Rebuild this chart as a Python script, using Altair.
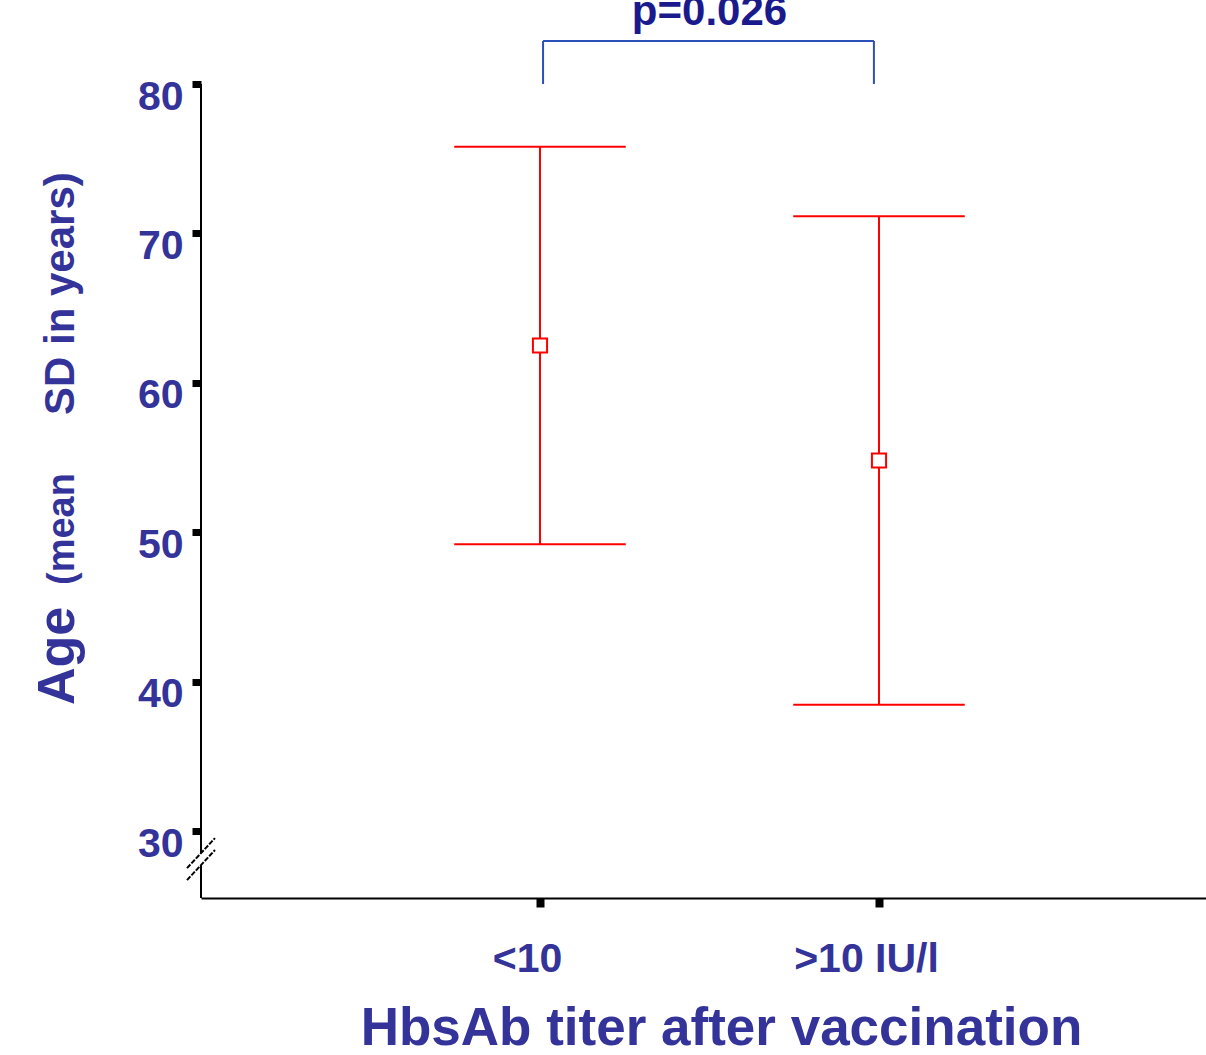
import altair as alt
import pandas as pd

# ---- data ----
groups = ["<10", ">10 IU/l"]
group_pos = [1, 2]
means = [62.5, 54.8]
sds = [13.3, 16.35]
y_ticks = [30, 40, 50, 60, 70, 80]

p_label = ["p=0.026"]
bracket_x = [1.009, 1.985]
bracket_low = 80.0
bracket_high = 82.88
p_y = 83.95

FONT = "Liberation Sans"
TXT = "#333399"

df = pd.DataFrame({"g": groups, "x": group_pos, "mean": means, "sd": sds})

xscale = alt.Scale(domain=[0, 1005 / 339], nice=False, zero=False)
yscale = alt.Scale(domain=[25.52, 80], nice=False, zero=False)

label_expr = "datum.value == 1 ? '" + groups[0] + "' : '" + groups[1] + "'"

xaxis = alt.Axis(
    values=group_pos, labelExpr=label_expr, grid=False,
    domainColor="black", domainWidth=2,
    tickColor="black", tickSize=9, tickWidth=8,
    labelFont=FONT, labelFontWeight="bold", labelFontSize=41, labelColor=TXT,
    labelPadding=32, labelOffset=-13, labelFlush=False,
    title="HbsAb titer after vaccination", titleFont=FONT, titleFontWeight="bold",
    titleFontSize=53, titleColor=TXT, titleX=520, titleY=146,
    titleBaseline="alphabetic", titleAlign="center",
)
yaxis = alt.Axis(
    values=y_ticks, domain=False, grid=False,
    tickColor="black", tickSize=9, tickWidth=7,
    labelFont=FONT, labelFontWeight="bold", labelFontSize=41, labelColor=TXT,
    labelPadding=9, labelOffset=13, title=None,
)

base = alt.Chart(df).transform_calculate(
    lo="datum.mean - datum.sd", hi="datum.mean + datum.sd",
    xl="datum.x - 0.253", xr="datum.x + 0.253",
)

vert = base.mark_rule(color="#ff0000", strokeWidth=2).encode(
    x=alt.X("x:Q", scale=xscale, axis=xaxis),
    y=alt.Y("lo:Q", scale=yscale, axis=yaxis),
    y2="hi:Q",
)
cap_hi = base.mark_rule(color="#ff0000", strokeWidth=2).encode(
    x="xl:Q", x2="xr:Q", y="hi:Q")
cap_lo = base.mark_rule(color="#ff0000", strokeWidth=2).encode(
    x="xl:Q", x2="xr:Q", y="lo:Q")
pts = base.mark_point(shape="square", size=200, fill="white", stroke="#ff0000",
                      strokeWidth=2, opacity=1, fillOpacity=1).encode(
    x="x:Q", y="mean:Q")

# y axis line with a break
yline = pd.DataFrame({"a": [80, 27.72], "b": [28.53, 25.52]})
yl = alt.Chart(yline).mark_rule(color="black", strokeWidth=2).encode(
    x=alt.value(0), y="a:Q", y2="b:Q")
slashes = pd.DataFrame({"a": [27.52, 26.72], "b": [29.53, 28.73]})
sl = alt.Chart(slashes).mark_rule(color="black", strokeWidth=2, strokeDash=[5, 1.5]).encode(
    x=alt.value(-14), x2=alt.value(14), y="a:Q", y2="b:Q")

# significance bracket
br = pd.DataFrame({"x1": [bracket_x[0], bracket_x[0], bracket_x[1]],
                   "x2": [bracket_x[1], bracket_x[0], bracket_x[1]],
                   "y1": [bracket_high, bracket_low, bracket_low],
                   "y2": [bracket_high, bracket_high, bracket_high]})
brk = alt.Chart(br).mark_rule(color="#2b50b8", strokeWidth=2).encode(
    x="x1:Q", x2="x2:Q", y="y1:Q", y2="y2:Q")
ptxt = alt.Chart(pd.DataFrame({"x": [(group_pos[0] + group_pos[1]) / 2], "y": [p_y], "t": p_label})).mark_text(
    font=FONT, fontWeight="bold", fontSize=42, color="#1a1a8c",
    align="center", baseline="alphabetic").encode(x="x:Q", y="y:Q", text="t:N")

# y title pieces
def ytitle(txt, size, ypix):
    return alt.Chart(pd.DataFrame({"t": [txt]})).mark_text(
        font=FONT, fontWeight="bold", fontSize=size, color=TXT,
        angle=270, align="left", baseline="alphabetic").encode(
        x=alt.value(-127), y=alt.value(ypix), text="t:N")

t1 = ytitle("Age", 52, 621)
t2 = ytitle("(mean", 38, 501)
t3 = ytitle("SD in years)", 42, 331)

chart = alt.layer(vert, cap_hi, cap_lo, pts, yl, sl, brk, ptxt, t1, t2, t3).properties(
    width=1005, height=814,
    padding={"left": 201, "top": 84, "right": 0, "bottom": 157},
    autosize=alt.AutoSizeParams(type="none"),
).configure_view(stroke=None)

chart.save("out.html", embed_options={"renderer": "svg", "actions": False})
